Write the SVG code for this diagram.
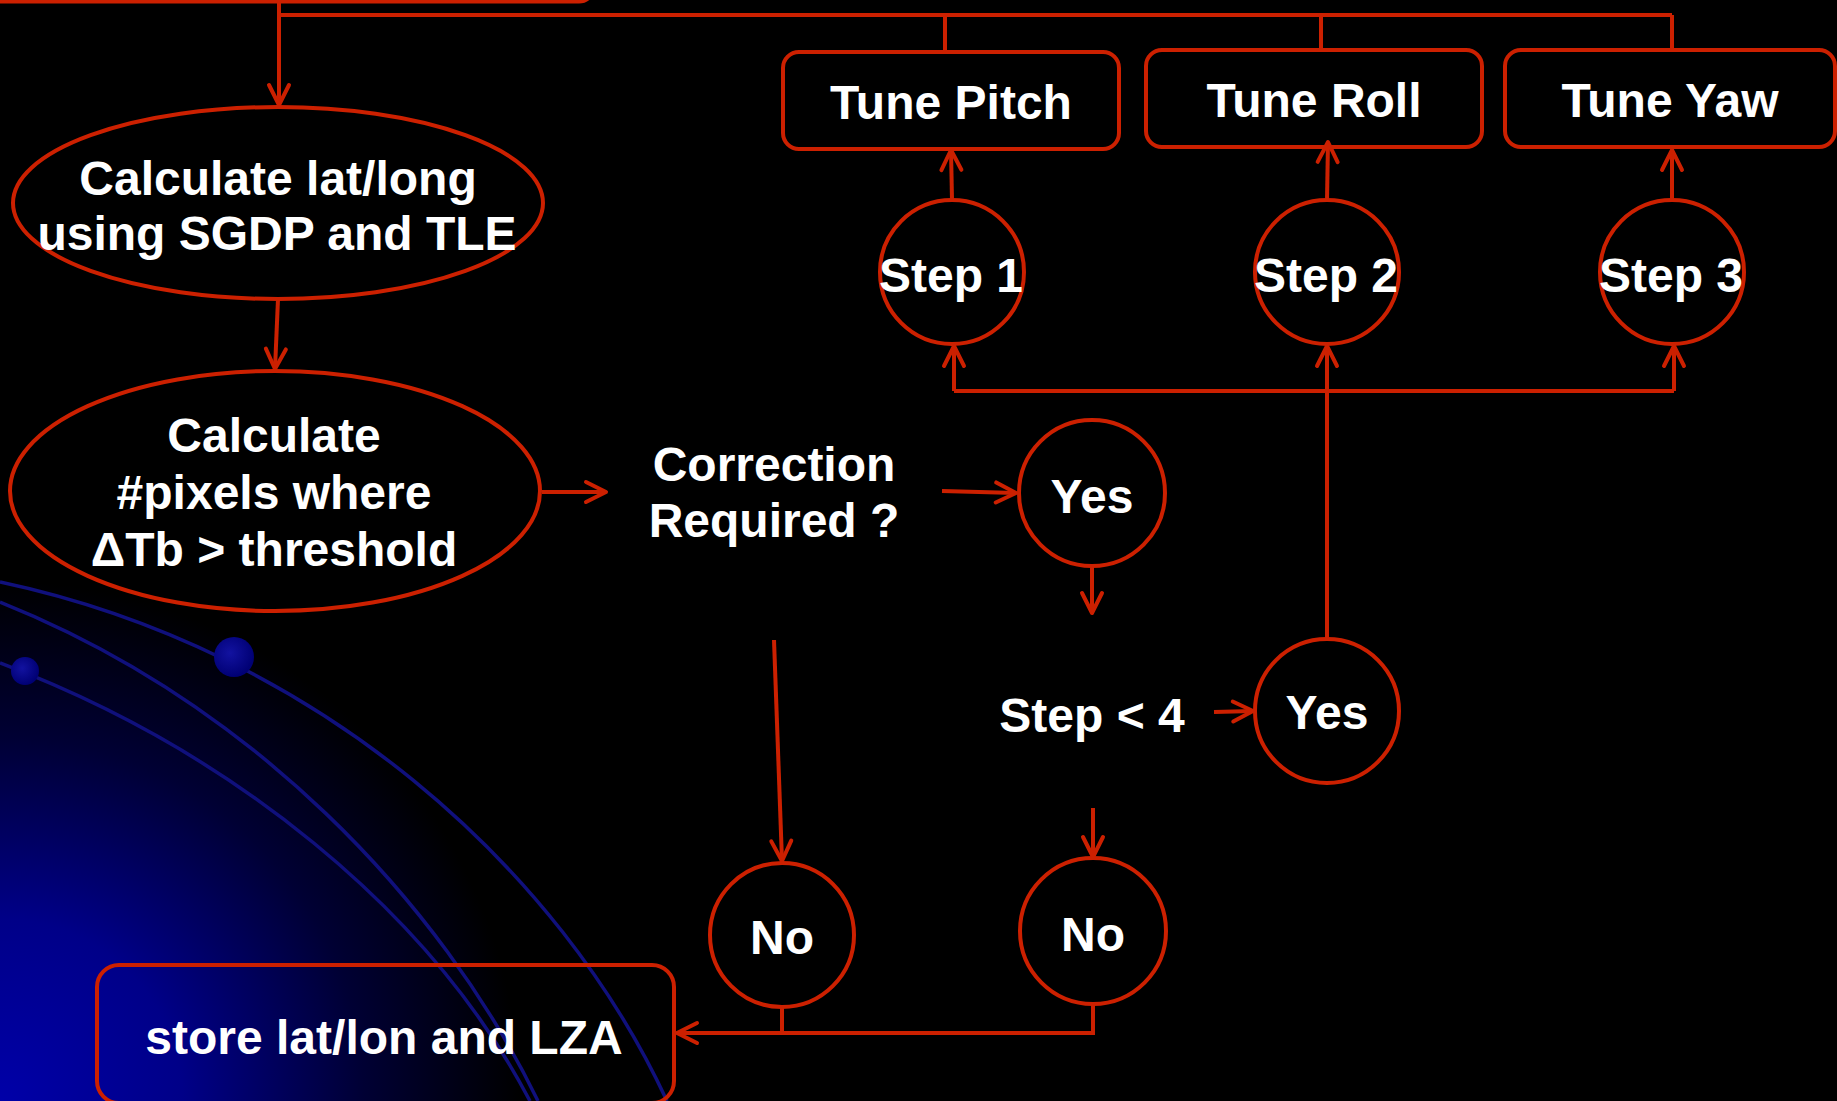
<svg xmlns="http://www.w3.org/2000/svg" width="1837" height="1101" viewBox="0 0 1837 1101">
  <defs>
    <radialGradient id="corner-glow" gradientUnits="userSpaceOnUse" cx="0" cy="1101" r="520">
      <stop offset="0" stop-color="#0000a8"/>
      <stop offset="0.35" stop-color="#000088"/>
      <stop offset="0.7" stop-color="#000034"/>
      <stop offset="1" stop-color="#000000"/>
    </radialGradient>
    <radialGradient id="bead" cx="0.4" cy="0.4" r="0.6">
      <stop offset="0" stop-color="#1212a0"/>
      <stop offset="1" stop-color="#000074"/>
    </radialGradient>
    <marker id="arrow" markerUnits="userSpaceOnUse" viewBox="-26 -16 32 32" markerWidth="32" markerHeight="32" refX="0" refY="0" orient="auto">
      <path d="M-20,-10 L0,0 L-20,10" fill="none" stroke="#cc2000" stroke-width="4" stroke-linecap="round" stroke-linejoin="round"/>
    </marker>
    <style>
      .node { fill: none; stroke: #cc2000; stroke-width: 4; }
      .wire { fill: none; stroke: #cc2000; stroke-width: 4; }
      .arr  { fill: none; stroke: #cc2000; stroke-width: 4; marker-end: url(#arrow); }
      .lbl  { fill: #ffffff; font-family: "Liberation Sans", Arial, sans-serif; font-weight: bold; font-size: 48px; text-anchor: middle; }
      .orbit { fill: none; stroke: #10107c; stroke-width: 3.5; }
    </style>
  </defs>

  <!-- background -->
  <rect x="0" y="0" width="1837" height="1101" fill="#000000"/>
  <rect x="0" y="0" width="1837" height="1101" fill="url(#corner-glow)"/>

  <!-- decorative orbit curves -->
  <g id="decor">
    <path class="orbit" d="M0,582 C320,650 560,870 667,1101"/>
    <path class="orbit" d="M0,602 C250,702 440,900 538,1101"/>
    <path class="orbit" d="M0,663 C230,750 430,910 530,1101"/>
    <circle cx="234" cy="657" r="20" fill="url(#bead)"/>
    <circle cx="25" cy="671" r="14" fill="url(#bead)"/>
  </g>

  <!-- connectors -->
  <g id="connectors">
    <path class="arr" d="M279,2 L279,105"/>
    <path class="wire" d="M279,15 L1672,15"/>
    <path class="wire" d="M945,15 L945,52"/>
    <path class="wire" d="M1321,15 L1321,50"/>
    <path class="wire" d="M1672,15 L1672,50"/>
    <path class="arr" d="M278,299 L275,369"/>
    <path class="arr" d="M542,492 L606,492"/>
    <path class="arr" d="M942,491 L1016,493"/>
    <path class="arr" d="M1092,567 L1092,613"/>
    <path class="arr" d="M1214,712 L1253,711"/>
    <path class="arr" d="M1327,639 L1327,346"/>
    <path class="wire" d="M954,391 L1674,391"/>
    <path class="arr" d="M954,391 L954,346"/>
    <path class="arr" d="M1674,391 L1674,346"/>
    <path class="arr" d="M952,200 L951,150"/>
    <path class="arr" d="M1327,200 L1328,142"/>
    <path class="arr" d="M1672,200 L1672,150"/>
    <path class="arr" d="M774,640 L782,861"/>
    <path class="arr" d="M1093,808 L1093,857"/>
    <path class="wire" d="M782,1008 L782,1033"/>
    <path class="arr" d="M1093,1004 L1093,1033 L677,1033"/>
  </g>

  <!-- nodes -->
  <g id="n-top">
    <rect class="node" x="-30" y="-100" width="624" height="101.5" rx="15"/>
  </g>
  <g id="n-latlong">
    <ellipse class="node" cx="278" cy="203" rx="265" ry="96"/>
    <text class="lbl" x="278" y="195">Calculate lat/long</text>
    <text class="lbl" x="277" y="250">using SGDP and TLE</text>
  </g>
  <g id="n-pixels">
    <ellipse class="node" cx="275" cy="491" rx="265" ry="120"/>
    <text class="lbl" x="274" y="452">Calculate</text>
    <text class="lbl" x="274" y="509">#pixels where</text>
    <text class="lbl" x="274" y="566">ΔTb &gt; threshold</text>
  </g>
  <g id="n-correction">
    <text class="lbl" x="774" y="481">Correction</text>
    <text class="lbl" x="774" y="537">Required ?</text>
  </g>
  <g id="n-yes1">
    <circle class="node" cx="1092" cy="493" r="73"/>
    <text class="lbl" x="1092" y="513">Yes</text>
  </g>
  <g id="n-steplt4">
    <text class="lbl" x="1092" y="732">Step &lt; 4</text>
  </g>
  <g id="n-yes2">
    <circle class="node" cx="1327" cy="711" r="72"/>
    <text class="lbl" x="1327" y="729">Yes</text>
  </g>
  <g id="n-step1">
    <circle class="node" cx="952" cy="272" r="72"/>
    <text class="lbl" x="951" y="292">Step 1</text>
  </g>
  <g id="n-step2">
    <circle class="node" cx="1327" cy="272" r="72"/>
    <text class="lbl" x="1326" y="292">Step 2</text>
  </g>
  <g id="n-step3">
    <circle class="node" cx="1672" cy="272" r="72"/>
    <text class="lbl" x="1671" y="292">Step 3</text>
  </g>
  <g id="n-pitch">
    <rect class="node" x="783" y="52" width="336" height="97" rx="16"/>
    <text class="lbl" x="951" y="119">Tune Pitch</text>
  </g>
  <g id="n-roll">
    <rect class="node" x="1146" y="50" width="336" height="97" rx="16"/>
    <text class="lbl" x="1314" y="117">Tune Roll</text>
  </g>
  <g id="n-yaw">
    <rect class="node" x="1505" y="50" width="330" height="97" rx="16"/>
    <text class="lbl" x="1670" y="117">Tune Yaw</text>
  </g>
  <g id="n-no1">
    <circle class="node" cx="782" cy="935" r="72"/>
    <text class="lbl" x="782" y="954">No</text>
  </g>
  <g id="n-no2">
    <circle class="node" cx="1093" cy="931" r="73"/>
    <text class="lbl" x="1093" y="951">No</text>
  </g>
  <g id="n-store">
    <rect class="node" x="97" y="965" width="577" height="138" rx="22"/>
    <text class="lbl" x="384" y="1054">store lat/lon and LZA</text>
  </g>
</svg>
